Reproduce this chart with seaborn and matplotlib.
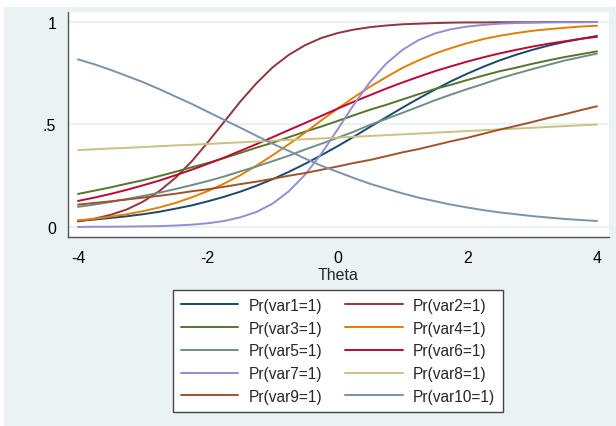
import numpy as np
import pandas as pd
import seaborn as sns
import matplotlib
matplotlib.use("Agg")
import matplotlib.pyplot as plt
from matplotlib.patches import Rectangle

# ------------------- data -------------------
theta = [-4.0, -3.75, -3.5, -3.25, -3.0, -2.75, -2.5, -2.25, -2.0, -1.75, -1.5,
         -1.25, -1.0, -0.75, -0.5, -0.25, 0.0, 0.25, 0.5, 0.75, 1.0, 1.25, 1.5,
         1.75, 2.0, 2.25, 2.5, 2.75, 3.0, 3.25, 3.5, 3.75, 4.0]

var1 = [0.030, 0.036, 0.044, 0.052, 0.062, 0.074, 0.089, 0.105, 0.125, 0.147, 0.172,
        0.201, 0.233, 0.269, 0.308, 0.350, 0.394, 0.440, 0.488, 0.535, 0.582, 0.627,
        0.670, 0.711, 0.748, 0.782, 0.813, 0.840, 0.864, 0.885, 0.903, 0.918, 0.932]
var2 = [0.027, 0.040, 0.059, 0.085, 0.123, 0.174, 0.239, 0.319, 0.413, 0.512, 0.611,
        0.701, 0.779, 0.840, 0.887, 0.922, 0.946, 0.963, 0.975, 0.983, 0.989, 0.992,
        0.995, 0.997, 0.998, 0.998, 0.999, 0.999, 0.999, 1.000, 1.000, 1.000, 1.000]
var3 = [0.161, 0.177, 0.193, 0.211, 0.228, 0.248, 0.269, 0.291, 0.312, 0.336, 0.361,
        0.387, 0.411, 0.438, 0.465, 0.490, 0.517, 0.545, 0.572, 0.596, 0.622, 0.648,
        0.673, 0.694, 0.717, 0.739, 0.760, 0.777, 0.796, 0.813, 0.829, 0.843, 0.857]
var4 = [0.032, 0.040, 0.050, 0.062, 0.077, 0.095, 0.117, 0.144, 0.175, 0.211, 0.252,
        0.299, 0.350, 0.404, 0.460, 0.520, 0.577, 0.632, 0.684, 0.731, 0.776, 0.813,
        0.846, 0.873, 0.897, 0.917, 0.933, 0.946, 0.957, 0.965, 0.972, 0.978, 0.982]
var5 = [0.098, 0.109, 0.122, 0.136, 0.151, 0.167, 0.185, 0.204, 0.224, 0.246, 0.271,
        0.295, 0.321, 0.348, 0.378, 0.406, 0.435, 0.465, 0.498, 0.527, 0.557, 0.587,
        0.618, 0.646, 0.673, 0.698, 0.725, 0.748, 0.770, 0.791, 0.812, 0.829, 0.846]
var6 = [0.127, 0.143, 0.161, 0.181, 0.203, 0.226, 0.252, 0.279, 0.308, 0.338, 0.371,
        0.404, 0.438, 0.473, 0.507, 0.542, 0.577, 0.611, 0.643, 0.675, 0.705, 0.733,
        0.760, 0.784, 0.807, 0.828, 0.847, 0.864, 0.880, 0.894, 0.906, 0.918, 0.928]
var7 = [0.000, 0.001, 0.001, 0.002, 0.003, 0.004, 0.007, 0.011, 0.018, 0.029, 0.047,
        0.073, 0.114, 0.174, 0.255, 0.357, 0.475, 0.596, 0.707, 0.797, 0.864, 0.912,
        0.944, 0.965, 0.978, 0.986, 0.992, 0.995, 0.997, 0.998, 0.999, 0.999, 1.000]
var8 = [0.375, 0.379, 0.383, 0.386, 0.390, 0.394, 0.398, 0.401, 0.405, 0.409, 0.413,
        0.417, 0.421, 0.425, 0.428, 0.432, 0.436, 0.440, 0.444, 0.448, 0.452, 0.456,
        0.460, 0.464, 0.468, 0.472, 0.476, 0.480, 0.484, 0.488, 0.492, 0.496, 0.500]
var9 = [0.109, 0.117, 0.125, 0.134, 0.143, 0.152, 0.162, 0.174, 0.184, 0.196, 0.209,
        0.221, 0.235, 0.250, 0.263, 0.279, 0.295, 0.312, 0.327, 0.345, 0.364, 0.380,
        0.399, 0.418, 0.435, 0.455, 0.475, 0.493, 0.512, 0.532, 0.550, 0.570, 0.589]
var10 = [0.818, 0.794, 0.767, 0.737, 0.707, 0.673, 0.637, 0.601, 0.562, 0.523, 0.485,
         0.445, 0.406, 0.371, 0.334, 0.299, 0.269, 0.239, 0.211, 0.187, 0.164, 0.143,
         0.126, 0.109, 0.095, 0.082, 0.071, 0.062, 0.053, 0.046, 0.039, 0.034, 0.029]

labels = ["Pr(var1=1)", "Pr(var2=1)", "Pr(var3=1)", "Pr(var4=1)", "Pr(var5=1)",
          "Pr(var6=1)", "Pr(var7=1)", "Pr(var8=1)", "Pr(var9=1)", "Pr(var10=1)"]
series = [var1, var2, var3, var4, var5, var6, var7, var8, var9, var10]

# Stata s2color palette
colors = ["#1a476f", "#90353b", "#55752f", "#e37e00", "#6e8e84",
          "#c10534", "#938dd2", "#cac27e", "#a0522d", "#7b92a8"]

xticks = [-4, -2, 0, 2, 4]
yticks = [0, 0.5, 1]
yticklabels = ["0", ".5", "1"]

# long format for seaborn
df = pd.concat([pd.DataFrame({"Theta": theta, "p": s, "item": lab})
                for s, lab in zip(series, labels)], ignore_index=True)

# ------------------- plot -------------------
sns.set_style("white")
plt.rcParams["font.family"] = ["Liberation Sans", "DejaVu Sans"]

bg = "#eaf2f3"
fig = plt.figure(figsize=(6.16, 4.27), dpi=100, facecolor="white")
fig.patches.append(Rectangle((4 / 616, 0), 1, 1 - 8 / 427, transform=fig.transFigure,
                             facecolor=bg, edgecolor="none", zorder=-10))

ax = fig.add_axes([68 / 616, 1 - 238 / 427, (609 - 68) / 616, (238 - 13) / 427])
ax.set_facecolor("white")

for y in yticks:
    ax.axhline(y, color=bg, lw=1.6, zorder=0)

sns.lineplot(data=df, x="Theta", y="p", hue="item", hue_order=labels,
             palette=colors, estimator=None, lw=1.4, ax=ax)

ax.set_xlim(-4.154, 4.185)
ax.set_ylim(-0.049, 1.049)
ax.set_xticks(xticks)
ax.set_xticklabels([str(t) for t in xticks])
ax.set_yticks(yticks)
ax.set_yticklabels(yticklabels)
ax.tick_params(axis="both", direction="out", length=4.5, width=0.9, color="#333333",
               labelsize=11.5, labelcolor="black")
ax.tick_params(axis="x", pad=5)
ax.tick_params(axis="y", pad=4)
ax.set_xlabel("Theta", fontsize=11.5, labelpad=1)
ax.set_ylabel("")

for side in ["top", "right"]:
    ax.spines[side].set_visible(False)
for side in ["left", "bottom"]:
    ax.spines[side].set_color("#555555")
    ax.spines[side].set_linewidth(1.0)

# legend in row order (var1 var2 / var3 var4 ...)
handles, labs = ax.get_legend_handles_labels()
order = [0, 2, 4, 6, 8, 1, 3, 5, 7, 9]
ax.legend([handles[i] for i in order], [labs[i] for i in order], ncol=2,
          loc="upper center", bbox_to_anchor=(338 / 616, 1 - 291 / 427),
          bbox_transform=fig.transFigure, borderaxespad=0, fontsize=11.2,
          frameon=True, fancybox=False,
          edgecolor="#444444", facecolor="white", framealpha=1,
          handlelength=3.7, handletextpad=0.65, columnspacing=1.5,
          labelspacing=0.5, borderpad=0.5)
ax.get_legend().get_frame().set_linewidth(1.0)

fig.savefig("out.png", dpi=100, facecolor=fig.get_facecolor())
